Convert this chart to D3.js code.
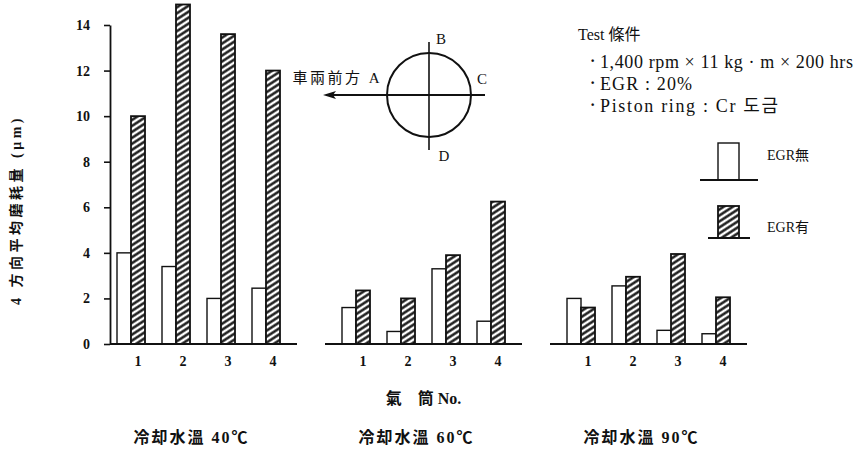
<!DOCTYPE html>
<html><head><meta charset="utf-8">
<script src="https://cdn.jsdelivr.net/npm/d3@7"></script>
<style>
html,body{margin:0;padding:0;background:#fff;}
svg{display:block;}
</style></head><body>
<svg id="chart" width="856" height="450"></svg>
<script>
// ---- data ----
const cylinders = ["1","2","3","4"];
const groupTitles = ["冷却水溫 40℃","冷却水溫 60℃","冷却水溫 90℃"];
const egrOff40 = [4.0, 3.4, 2.0, 2.45];
const egrOn40  = [10.0, 14.9, 13.6, 12.0];
const egrOff60 = [1.6, 0.55, 3.3, 1.0];
const egrOn60  = [2.35, 2.0, 3.9, 6.25];
const egrOff90 = [2.0, 2.55, 0.6, 0.45];
const egrOn90  = [1.6, 2.95, 3.95, 2.05];
const yTicks = [0,2,4,6,8,10,12,14];
const seriesNames = ["EGR無","EGR有"];
const yLabel = "4 方向平均磨耗量 (μm)";
const xLabel = "氣　筒 No.";
const condTitle = "Test 條件";
const condLines = ["1,400 rpm × 11 kg · m × 200 hrs","EGR : 20%","Piston ring : Cr  도금"];
const dirLabels = {front:"車兩前方 A", B:"B", C:"C", D:"D"};

const offByGroup = [egrOff40, egrOff60, egrOff90];
const onByGroup = [egrOn40, egrOn60, egrOn90];

const rows = [];
groupTitles.forEach((g, gi) => cylinders.forEach((c, ci) => {
  rows.push({group: gi, cyl: c, slot: gi*5 + ci, series: "off", value: offByGroup[gi][ci]});
  rows.push({group: gi, cyl: c, slot: gi*5 + ci, series: "on", value: onByGroup[gi][ci]});
}));

// ---- layout ----
const svg = d3.select("#chart");
const serif = "'Liberation Serif','DejaVu Serif',serif";
const cjk = "'Liberation Serif','Noto Sans CJK JP','Noto Sans CJK KR',serif";

const y = d3.scaleLinear().domain([0,14]).range([344,25]);
const xSlot = d3.scaleLinear().domain([0,13]).range([117,702]);
const inner = d3.scaleBand().domain(["off","on"]).range([0,28]);

// hatch pattern
const defs = svg.append("defs");
const pat = defs.append("pattern").attr("id","hatch").attr("patternUnits","userSpaceOnUse")
  .attr("width",10).attr("height",5).attr("patternTransform","rotate(-33)");
pat.append("rect").attr("width",10).attr("height",5).attr("fill","#fff");
pat.append("line").attr("x1",0).attr("x2",10).attr("y1",2.5).attr("y2",2.5)
  .attr("stroke","#111").attr("stroke-width",2.4);

// y axis
const yAxis = svg.append("g").attr("transform","translate(110,0)")
  .call(d3.axisLeft(y).tickValues(yTicks).tickSize(6).tickSizeOuter(0).tickPadding(14));
yAxis.select(".domain").attr("stroke","#111").attr("stroke-width",1.8);
yAxis.selectAll(".tick line").attr("stroke","#111").attr("stroke-width",1.6);
yAxis.selectAll(".tick text").attr("font-family",serif).attr("font-weight","bold")
  .attr("font-size",14).attr("fill","#111");

svg.append("text").attr("transform","translate(16,210) rotate(-90)")
  .attr("text-anchor","middle").attr("dominant-baseline","central")
  .attr("font-family",cjk).attr("font-weight","bold").attr("font-size",14)
  .attr("letter-spacing",3.5).attr("fill","#111").text(yLabel);

// bars
svg.append("g").selectAll("rect").data(rows).join("rect")
  .attr("x", d => xSlot(d.slot) + inner(d.series))
  .attr("width", inner.bandwidth())
  .attr("y", d => y(d.value))
  .attr("height", d => y(0) - y(d.value))
  .attr("fill", d => d.series === "on" ? "url(#hatch)" : "#fff")
  .attr("stroke","#111")
  .attr("stroke-width", d => d.series === "on" ? 1.8 : 1.4);

// baselines + cylinder labels + titles
groupTitles.forEach((t, gi) => {
  const s0 = xSlot(gi*5), s3 = xSlot(gi*5+3);
  const x0 = gi === 0 ? 110 : s0 - 17;
  const x1 = s3 + 45;
  svg.append("line").attr("x1",x0).attr("x2",x1).attr("y1",y(0)).attr("y2",y(0))
    .attr("stroke","#111").attr("stroke-width",2);
  cylinders.forEach((c, ci) => {
    svg.append("text").attr("x", xSlot(gi*5+ci) + inner("on") + inner.bandwidth()/2)
      .attr("y", 361).attr("text-anchor","middle").attr("dominant-baseline","central")
      .attr("font-family",serif).attr("font-weight","bold").attr("font-size",14)
      .attr("fill","#111").text(c);
  });
  const cx = (s0 + s3 + 28)/2;
  svg.append("text").attr("x", cx - 7).attr("y", 437).attr("text-anchor","middle")
    .attr("dominant-baseline","central").attr("font-family",cjk).attr("font-weight","bold")
    .attr("font-size",16).attr("letter-spacing",2).attr("fill","#111").text(t);
  if (gi === 1) {
    svg.append("text").attr("x", cx).attr("y", 398).attr("text-anchor","middle")
      .attr("dominant-baseline","central").attr("font-family",cjk).attr("font-weight","bold")
      .attr("font-size",16).attr("fill","#111").text(xLabel);
  }
});

// direction diagram
const dg = svg.append("g");
dg.append("circle").attr("cx",429).attr("cy",95).attr("r",42)
  .attr("fill","none").attr("stroke","#111").attr("stroke-width",2);
dg.append("line").attr("x1",429).attr("x2",429).attr("y1",42).attr("y2",150)
  .attr("stroke","#111").attr("stroke-width",1.6);
dg.append("line").attr("x1",326).attr("x2",485).attr("y1",95).attr("y2",95)
  .attr("stroke","#111").attr("stroke-width",1.8);
dg.append("path").attr("d","M323,95 L336,91 L333,95 L336,99 Z").attr("fill","#111");
dg.append("text").attr("x",382).attr("y",78).attr("text-anchor","end")
  .attr("dominant-baseline","central").attr("font-family",cjk).attr("font-size",15)
  .attr("letter-spacing",2.5).attr("fill","#111").text(dirLabels.front);
dg.append("text").attr("x",441).attr("y",39).attr("text-anchor","middle")
  .attr("dominant-baseline","central").attr("font-family",serif).attr("font-size",15)
  .attr("fill","#111").text(dirLabels.B);
dg.append("text").attr("x",482).attr("y",79).attr("text-anchor","middle")
  .attr("dominant-baseline","central").attr("font-family",serif).attr("font-size",15)
  .attr("fill","#111").text(dirLabels.C);
dg.append("text").attr("x",444).attr("y",156).attr("text-anchor","middle")
  .attr("dominant-baseline","central").attr("font-family",serif).attr("font-size",15)
  .attr("fill","#111").text(dirLabels.D);

// test conditions
svg.append("text").attr("x",578).attr("y",34).attr("dominant-baseline","central")
  .attr("font-family",cjk).attr("font-size",16).attr("fill","#111").text(condTitle);
const condY = [62, 84, 106];
const condW = [253, 92, 178];
condLines.forEach((l, i) => {
  svg.append("text").attr("x",590).attr("y",condY[i]-2).attr("dominant-baseline","central")
    .attr("font-family",serif).attr("font-size",16).attr("font-weight","bold").attr("fill","#111").text("·");
  svg.append("text").attr("x",600).attr("y",condY[i]).attr("dominant-baseline","central")
    .attr("font-family",cjk).attr("font-size",18).attr("fill","#111")
    .attr("textLength",condW[i]).attr("lengthAdjust","spacing").text(l);
});

// legend
const lg = svg.append("g");
lg.append("rect").attr("x",718).attr("y",143).attr("width",21).attr("height",37)
  .attr("fill","#fff").attr("stroke","#111").attr("stroke-width",1.4);
lg.append("line").attr("x1",700).attr("x2",758).attr("y1",180).attr("y2",180)
  .attr("stroke","#111").attr("stroke-width",1.8);
lg.append("text").attr("x",767).attr("y",155).attr("dominant-baseline","central")
  .attr("font-family",cjk).attr("font-size",14).attr("fill","#111").text(seriesNames[0]);
lg.append("rect").attr("x",718).attr("y",206).attr("width",21).attr("height",32)
  .attr("fill","url(#hatch)").attr("stroke","#111").attr("stroke-width",1.8);
lg.append("line").attr("x1",708).attr("x2",750).attr("y1",238).attr("y2",238)
  .attr("stroke","#111").attr("stroke-width",1.8);
lg.append("text").attr("x",767).attr("y",227).attr("dominant-baseline","central")
  .attr("font-family",cjk).attr("font-size",14).attr("fill","#111").text(seriesNames[1]);
</script>
</body></html>
